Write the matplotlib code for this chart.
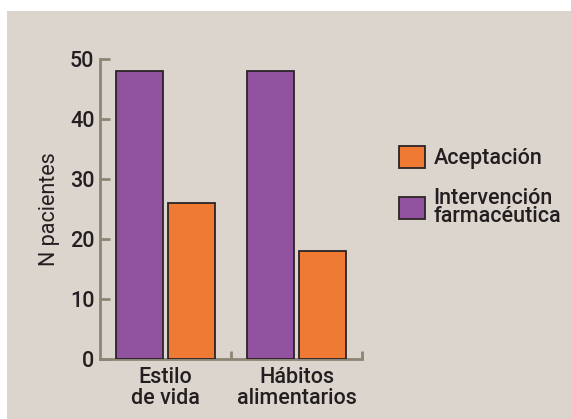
import matplotlib
matplotlib.use("Agg")
import matplotlib.pyplot as plt
from matplotlib.patches import Rectangle
import numpy as np

# data
categories = ["Estilo\nde vida", "Hábitos\nalimentarios"]
intervencion = [48, 48]
aceptacion = [26, 18]
series_labels = ["Intervención\nfarmacéutica", "Aceptación"]

purple = "#9153a0"
orange = "#ee7a33"
edge = "#2b2326"
spine_col = "#8c8474"
bg = "#dbd5ce"
txt = "#231f20"

plt.rcParams["font.family"] = ["Roboto", "DejaVu Sans"]
plt.rcParams["font.weight"] = "medium"
fs = 15.5

W, H = 571, 419
fig = plt.figure(figsize=(W / 100, H / 100), dpi=100, facecolor="white")

# beige panel behind everything
fig.patches.append(Rectangle((7 / W, 0), 1, (H - 11) / H, transform=fig.transFigure,
                             facecolor=bg, edgecolor="none", zorder=-10))

ax = fig.add_axes([100 / W, 60 / H, 262 / W, 300 / H])
ax.set_facecolor("none")

x = np.arange(len(categories))
bw = 0.36
ax.bar(x - 0.2, intervencion, bw, color=purple, edgecolor=edge, linewidth=1.3,
       label=series_labels[0], zorder=3)
ax.bar(x + 0.2, aceptacion, bw, color=orange, edgecolor=edge, linewidth=1.3,
       label=series_labels[1], zorder=3)

ax.set_xlim(-0.5, 1.5)
ax.set_ylim(0, 50)

for s in ["top", "right"]:
    ax.spines[s].set_visible(False)
for s in ["left", "bottom"]:
    ax.spines[s].set_color(spine_col)
    ax.spines[s].set_linewidth(2)

ax.set_yticks([0, 10, 20, 30, 40, 50])
ax.tick_params(axis="y", direction="in", length=7, width=2, color=spine_col,
               labelsize=fs, labelcolor=txt, pad=4)
ax.set_xticks(x)
ax.set_xticklabels(categories, fontsize=fs, color=txt, linespacing=0.95)
ax.tick_params(axis="x", length=0, pad=6)
ax.set_xticks([0.5, 1.5], minor=True)
ax.tick_params(axis="x", which="minor", direction="in", length=6, width=2, color=spine_col)

ax.set_ylabel("N pacientes", fontsize=fs, color=txt, labelpad=7)

handles, labels = ax.get_legend_handles_labels()
leg = fig.legend([handles[1], handles[0]], [labels[1], labels[0]],
                 loc="upper left", bbox_to_anchor=(399 / W, 1 - 146 / H),
                 frameon=False, fontsize=fs, borderpad=0, borderaxespad=0,
                 handlelength=1.2, handleheight=1.2, handletextpad=0.4,
                 labelspacing=0.85)
for t in leg.get_texts():
    t.set_color(txt)
    t.set_linespacing(0.85)

fig.savefig("out.png", dpi=100, facecolor="white")
